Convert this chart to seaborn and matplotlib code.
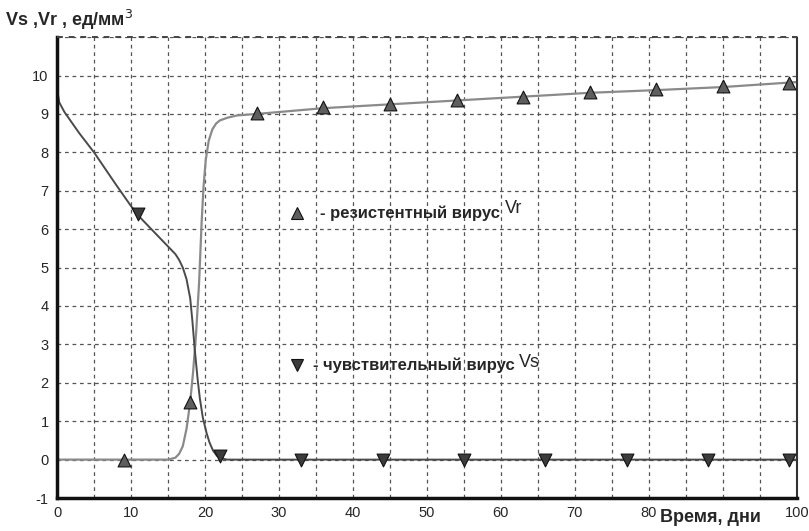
import numpy as np
import pandas as pd
import matplotlib
matplotlib.use("Agg")
import matplotlib.pyplot as plt
from matplotlib.ticker import MultipleLocator
import seaborn as sns

# Curves
vs_x = [0, 0.05, 0.3, 1, 3, 5, 8, 10, 11, 12, 13, 14, 15, 16, 16.5, 17, 17.5, 18, 18.3, 18.6, 19, 19.3,
        19.7, 20.2, 20.6, 21.1, 21.6, 22.3, 23, 100]
vs_y = [9.7, 9.6, 9.3, 9.05, 8.5, 8.0, 7.15, 6.6, 6.35, 6.15, 5.95, 5.75, 5.55, 5.35, 5.2, 5.0, 4.7, 4.2,
        3.6, 2.9, 2.1, 1.6, 1.1, 0.7, 0.45, 0.23, 0.1, 0.03, 0.0, 0.0]

vr_x = [0, 15, 16, 16.5, 17, 17.5, 18, 18.4, 18.8, 19.2, 19.55, 19.8, 20.1, 20.5, 21, 21.5, 22, 23, 24.3,
        27, 36, 45, 54, 63, 72, 81, 90, 100]
vr_y = [0, 0, 0.05, 0.15, 0.35, 0.8, 1.5, 2.3, 3.3, 4.6, 6.2, 7.1, 7.8, 8.3, 8.6, 8.75, 8.83, 8.9, 8.96,
        9.0, 9.15, 9.25, 9.35, 9.45, 9.55, 9.62, 9.7, 9.83]

# Markers
vr_mx = [9, 18, 27, 36, 45, 54, 63, 72, 81, 90, 99]
vr_my = [0.0, 1.5, 9.02, 9.17, 9.27, 9.35, 9.45, 9.56, 9.64, 9.72, 9.81]
vs_mx = [11, 22, 33, 44, 55, 66, 77, 88, 99]
vs_my = [6.4, 0.1, 0.0, 0.0, 0.0, 0.0, 0.0, 0.0, 0.0]

x_ticks = [0, 10, 20, 30, 40, 50, 60, 70, 80, 100]
y_ticks = [-1, 0, 1, 2, 3, 4, 5, 6, 7, 8, 9, 10]

sns.set_style("white")
plt.rcParams['font.family'] = ['Liberation Sans', 'DejaVu Sans']

fig = plt.figure(figsize=(8.09, 5.31), dpi=100)
ax = fig.add_axes([0.0705, 0.0621, 0.9145, 0.868])

df_vs = pd.DataFrame({"x": vs_x, "y": vs_y})
df_vr = pd.DataFrame({"x": vr_x, "y": vr_y})
sns.lineplot(data=df_vr, x="x", y="y", ax=ax, color="#8a8a8a", lw=1.6, sort=False)
sns.lineplot(data=df_vs, x="x", y="y", ax=ax, color="#4a4a4a", lw=1.4, sort=False)

sns.scatterplot(x=vr_mx, y=vr_my, ax=ax, marker="^", s=85, color="#5e5e5e",
                edgecolor="#111111", linewidth=0.8, zorder=5)
sns.scatterplot(x=vs_mx, y=vs_my, ax=ax, marker="v", s=85, color="#3c3c3c",
                edgecolor="#111111", linewidth=0.8, zorder=5)

ax.set_xlim(0, 100)
ax.set_ylim(-1, 11)

# grid
ax.set_xticks(np.arange(0, 101, 5), minor=False)
ax.set_xticklabels([str(v) if v in x_ticks else "" for v in np.arange(0, 101, 5)])
ax.set_yticks(list(range(-1, 12)))
ax.set_yticklabels([str(v) if v in y_ticks else "" for v in range(-1, 12)])
ax.xaxis.set_minor_locator(MultipleLocator(1))
ax.yaxis.set_minor_locator(MultipleLocator(0.25))
ax.grid(True, which="major", color="#555555", linestyle=(0, (3, 3)), linewidth=0.9)
ax.axhline(11, color="#444444", linestyle=(0, (3, 3)), linewidth=1.4, clip_on=False, zorder=3)
ax.tick_params(axis="both", which="major", direction="out", length=4, width=1, labelsize=10.5, pad=2)
ax.tick_params(axis="both", which="minor", direction="out", length=2, width=0.8)

ax.spines["left"].set_linewidth(2.5)
ax.spines["bottom"].set_linewidth(2.5)
ax.spines["left"].set_color("#111111")
ax.spines["bottom"].set_color("#111111")
ax.spines["top"].set_visible(False)
ax.spines["right"].set_linestyle((0, (1, 1)))
ax.spines["right"].set_linewidth(1.5)
ax.spines["right"].set_color("#333333")

ax.set_xlabel("")
ax.set_ylabel("")

# axis titles
fig.text(0.006, 0.962, "Vs ,Vr , ед/мм$^3$", fontsize=13, fontweight="bold", ha="left", va="center")
fig.text(0.878, 0.026, "Время, дни", fontsize=13, fontweight="bold", ha="center", va="center")

# in-plot legend
ax.plot([32.4], [6.42], marker="^", ms=8, color="#5e5e5e", mec="#111111", mew=0.8, ls="none")
t1 = ax.text(35.6, 6.42, "- резистентный вирус", fontsize=12, fontweight="bold", va="center", ha="left")
ax.annotate("Vr", xy=(1, 0.5), xycoords=t1, xytext=(3, 3), textcoords="offset points",
            fontsize=13, va="center", ha="left")
ax.plot([32.4], [2.46], marker="v", ms=8, color="#3c3c3c", mec="#111111", mew=0.8, ls="none")
t2 = ax.text(34.6, 2.46, "- чувствительный вирус", fontsize=12, fontweight="bold", va="center", ha="left")
ax.annotate("Vs", xy=(1, 0.5), xycoords=t2, xytext=(3, 2), textcoords="offset points",
            fontsize=13, va="center", ha="left")

fig.savefig("out.png", dpi=100)
